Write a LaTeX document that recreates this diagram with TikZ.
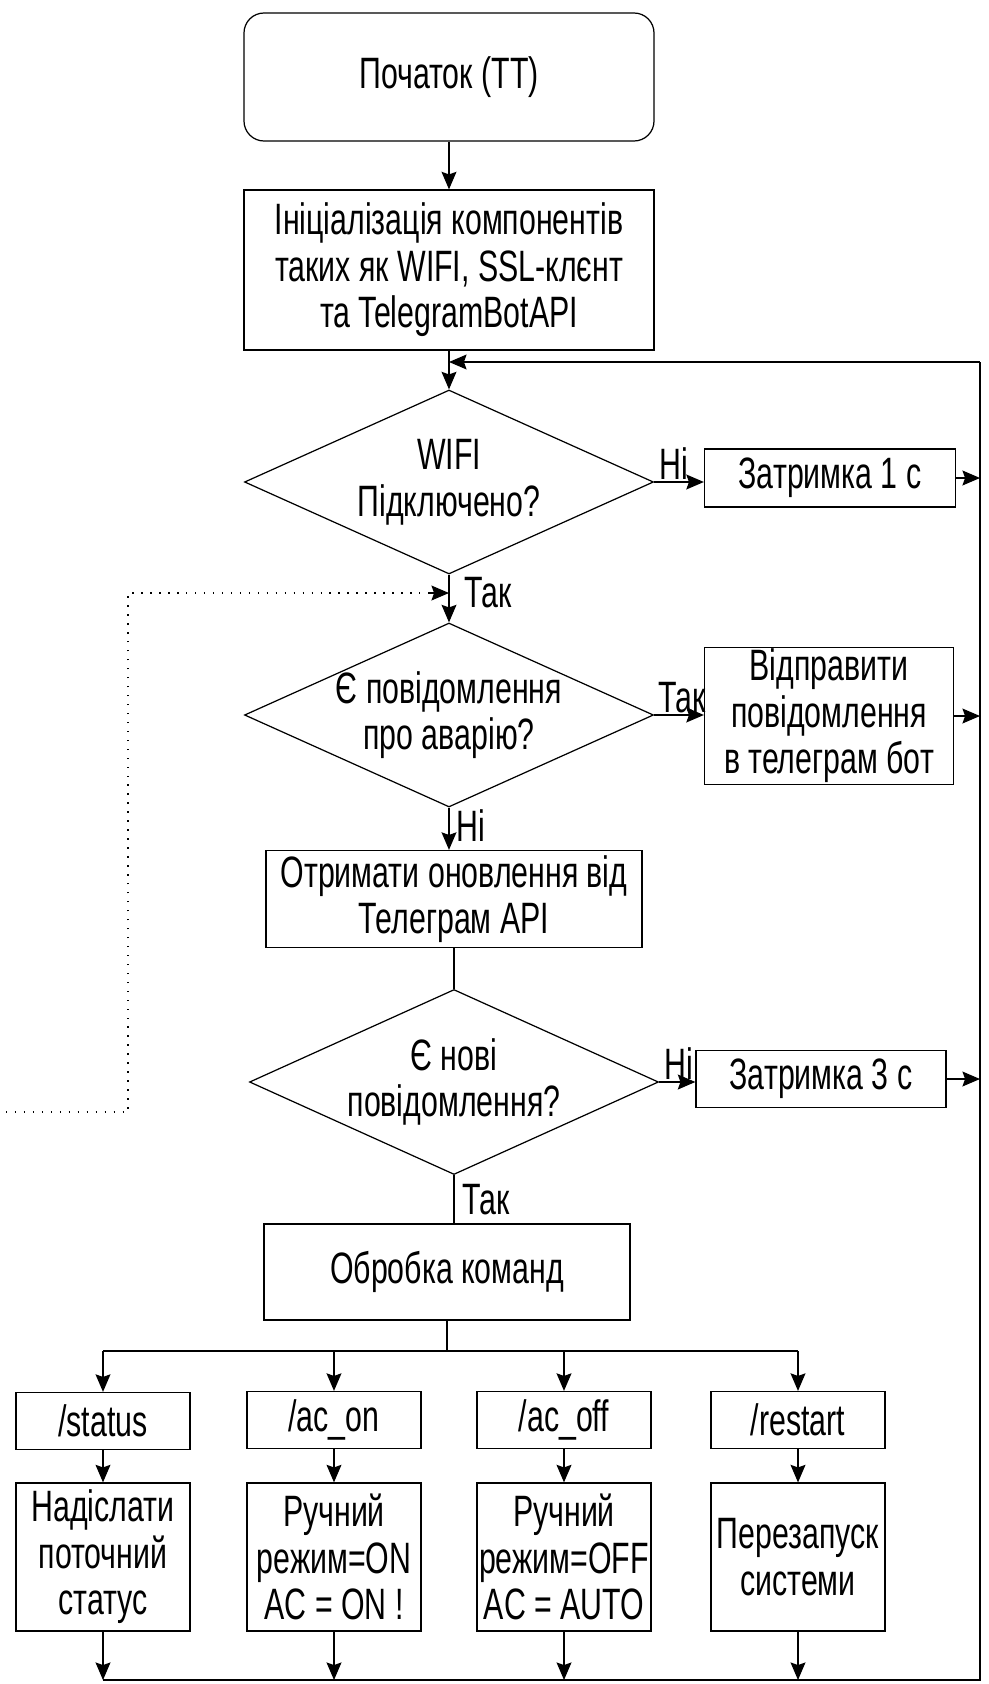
\documentclass[tikz,border=0pt]{standalone}
\usepackage{fontspec}
\setmainfont{Liberation Sans}[FakeStretch=0.69]
\usetikzlibrary{positioning}
\usetikzlibrary{calc}
\usetikzlibrary{arrows.meta}
\usetikzlibrary{shapes.geometric}
\tikzset{
	every path/.style={line width=0.7pt},
	>={Stealth[length=10pt,width=8.5pt,inset=1.5pt]},
	startbox/.style={draw,rounded corners=4mm,minimum width=82mm,minimum height=25.6mm,align=center},
	procbox/.style={draw,rectangle,align=center,inner sep=0pt},
	decision/.style={draw,diamond,shape aspect=2.2,align=center,inner sep=-3pt,minimum width=81.8mm,minimum height=36.8mm},
	cmdbox/.style={procbox,minimum width=34.8mm,minimum height=11.4mm},
	actbox/.style={procbox,minimum width=34.8mm,minimum height=29.6mm},
	answer/.style={inner sep=1pt},
	loopback/.style={dash pattern=on 0.8pt off 4.3pt},
}

\begin{document}
\begin{tikzpicture}[x=0.2mm,y=-0.2mm,font=\fontsize{25}{26.5}\selectfont]
	\useasboundingbox (0,0) rectangle (989,1684);

	% start and init....................
	\node [startbox] (start) at (449,77) {Початок (ТТ)};
	\node [procbox, minimum width=82mm, minimum height=32mm] (init) at (449,270) {Ініціалізація компонентів\\таких як WIFI, SSL-клєнт\\та TelegramBotAPI};

	% checks............................
	\node [decision] (wifi) at (449,482) {WIFI\\Підключено?};
	\node [procbox, minimum width=50.2mm, minimum height=11.6mm] (wait1) at (830,478) {Затримка 1 с};
	\node [decision] (alarm) at (449,715) {Є повідомлення\\про аварію?};
	\node [procbox, minimum width=49.8mm, minimum height=27.4mm] (send) at (829,716) {Відправити\\повідомлення\\в телеграм бот};
	\node [procbox, minimum width=75.2mm, minimum height=19.4mm] (updates) at (454,899) {Отримати оновлення від\\Телеграм API};
	\node [decision, minimum height=37mm] (newmsg) at (454,1082) {Є нові\\повідомлення?};
	\node [procbox, minimum width=50mm, minimum height=11.4mm] (wait3) at (821,1079) {Затримка 3 с};
	\node [procbox, minimum width=73.2mm, minimum height=19.2mm] (handle) at (447,1272) {Обробка команд};

	% commands..........................
	\node [cmdbox] (status) at (103,1421) {/status};
	\node [cmdbox] (acon) at (334,1420) {/ac\_on};
	\node [cmdbox] (acoff) at (564,1420) {/ac\_off};
	\node [cmdbox] (restart) at (798,1420) {/restart};

	% actions...........................
	\node [actbox] (report) at (103,1557) {Надіслати\\поточний\\статус};
	\node [actbox] (manon) at (334,1557) {Ручний\\режим=ON\\AC = ON !};
	\node [actbox] (manoff) at (564,1557) {Ручний\\режим=OFF\\AC = AUTO};
	\node [actbox] (reboot) at (798,1557) {Перезапуск\\системи};

	% helper points.....................
	\coordinate (rtop) at (980,362);
	\coordinate (rbot) at (980,1680);
	\coordinate (split) at (447,1351);
	\coordinate (dotA) at (6,1112);
	\coordinate (dotB) at (128,1112);
	\coordinate (dotC) at (128,593);

	% main flow.........................
	\draw [->] (start) -- (init);
	\draw [->] (init) -- (wifi);
	\draw [->] (wifi.east) -- (wifi.east -| wait1.west) node [answer, pos=0, above right, xshift=0.6mm] {Ні};
	\draw [->] (wifi.south) -- (alarm.north) node [answer, pos=0, below right, xshift=2.6mm] {Так};
	\draw [->] (alarm.east) -- (alarm.east -| send.west) node [answer, pos=0, above right, xshift=0.3mm] {Так};
	\draw [->] (alarm.south) -- (alarm.south |- updates.north) node [answer, pos=0, below right, xshift=1mm] {Ні};
	\draw (updates.south) -- (newmsg.north);
	\draw [->] (newmsg.east) -- (newmsg.east -| wait3.west) node [answer, pos=0, above right, xshift=0.6mm] {Ні};
	\draw (newmsg.south) -- (newmsg.south |- handle.north) node [answer, pos=0, below right, xshift=1.2mm, yshift=-1.4mm] {Так};

	% to the loop line..................
	\draw [->] (wait1.east) -- (wait1.east -| rtop);
	\draw [->] (send.east) -- (send.east -| rtop);
	\draw [->] (wait3.east) -- (wait3.east -| rtop);

	% dotted way back...................
	\draw [loopback] (dotA) -- (dotB) -- (dotC) -- ($(dotC -| wifi)+(-20,0)$);
	\draw [->] ($(dotC -| wifi)+(-20,0)$) -- (dotC -| wifi);

	% commands split....................
	\draw (handle.south) -- (split);
	\draw (split -| status) -- (split -| restart);
	\draw [->] (split -| status) -- (status);
	\draw [->] (split -| acon) -- (acon);
	\draw [->] (split -| acoff) -- (acoff);
	\draw [->] (split -| restart) -- (restart);
	\draw [->] (status) -- (report);
	\draw [->] (acon) -- (manon);
	\draw [->] (acoff) -- (manoff);
	\draw [->] (restart) -- (reboot);

	% back to the top...................
	\draw [->] (report) -- (report |- rbot);
	\draw [->] (manon) -- (manon |- rbot);
	\draw [->] (manoff) -- (manoff |- rbot);
	\draw [->] (reboot) -- (reboot |- rbot);
	\draw (rbot -| report) -- (rbot) -- (rtop);
	\draw [->] (rtop) -- (rtop -| init);
\end{tikzpicture}
\end{document}
